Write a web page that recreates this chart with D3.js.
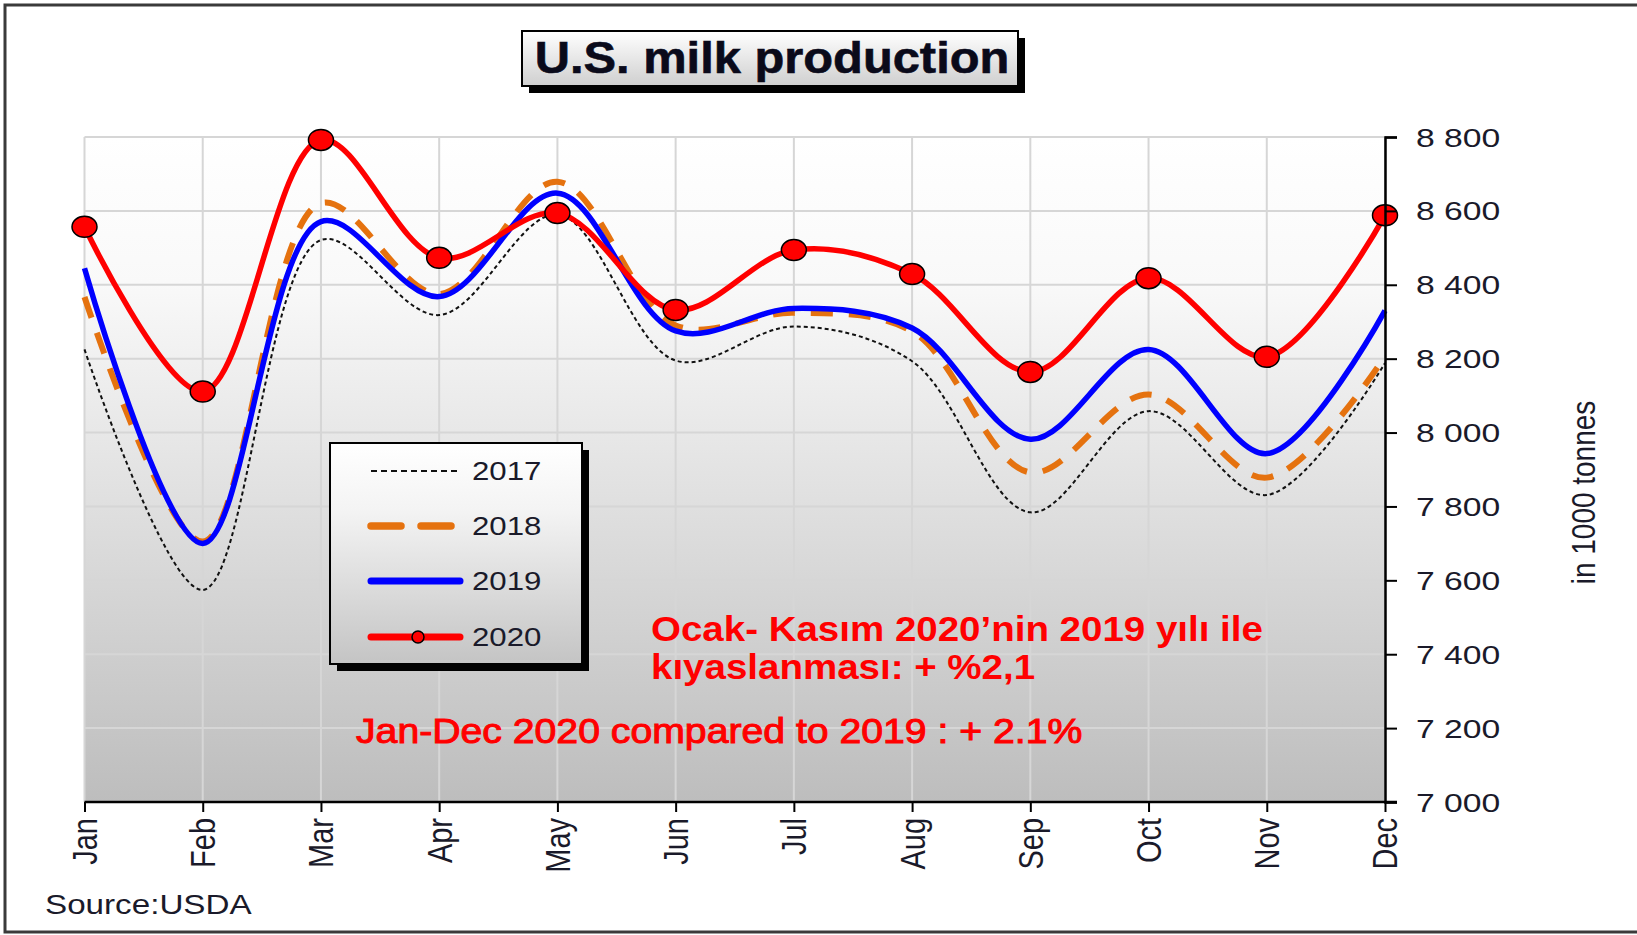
<!DOCTYPE html>
<html>
<head>
<meta charset="utf-8">
<script src="https://cdn.jsdelivr.net/npm/d3@7/dist/d3.min.js"></script>
<style>
  html, body { margin: 0; padding: 0; background: #fff; }
  svg { display: block; font-family: "Liberation Sans", Arial, sans-serif; }
</style>
</head>
<body>
<svg id="chart" width="1637" height="935"></svg>
<script>
// Monthly U.S. milk production, 1000 tonnes
const months = ["Jan", "Feb", "Mar", "Apr", "May", "Jun", "Jul", "Aug", "Sep", "Oct", "Nov", "Dec"];
const y2017 = [8225, 7574, 8521, 8318, 8590, 8195, 8287, 8193, 7784, 8058, 7831, 8188];
const y2018 = [8367, 7705, 8621, 8375, 8679, 8290, 8324, 8274, 7892, 8103, 7878, 8206];
const y2019 = [8445, 7700, 8571, 8368, 8648, 8275, 8336, 8283, 7982, 8225, 7943, 8330];
const y2020 = [8557, 8111, 8792, 8473, 8594, 8332, 8494, 8429, 8164, 8418, 8205, 8588];
const yTicks = [7000, 7200, 7400, 7600, 7800, 8000, 8200, 8400, 8600, 8800];

const titleText = "U.S. milk production";
const axisTitle = "in 1000 tonnes";
const sourceText = "Source:USDA";
const noteTr1 = "Ocak- Kasım 2020’nin 2019 yılı ile";
const noteTr2 = "kıyaslanması: + %2,1";
const noteEn = "Jan-Dec 2020 compared to 2019 : + 2.1%";

const series = [
  { name: "2017", values: y2017, color: "#111", width: 2, dash: "4,3", legendDash: "6,4" },
  { name: "2018", values: y2018, color: "#e5720f", width: 6, dash: "22,16", legendDash: "30,20" },
  { name: "2019", values: y2019, color: "#0000ff", width: 5.5, dash: null, legendDash: null },
  { name: "2020", values: y2020, color: "#ff0000", width: 5.5, dash: null, legendDash: null, markers: true }
];

const SX = 1.2; // horizontal stretch applied to text

const svg = d3.select("#chart");
const plot = { left: 84.5, right: 1385, top: 137, bottom: 802 };

const x = d3.scalePoint().domain(months).range([plot.left, plot.right]);
const y = d3.scaleLinear().domain([7000, 8800]).range([plot.bottom, plot.top]);

const defs = svg.append("defs");
function vGrad(id, stops) {
  const g = defs.append("linearGradient").attr("id", id).attr("x1", 0).attr("x2", 0).attr("y1", 0).attr("y2", 1);
  stops.forEach(([o, c]) => g.append("stop").attr("offset", o).attr("stop-color", c));
}
vGrad("plotBg", [["0%", "#ffffff"], ["22%", "#f9f9f9"], ["100%", "#bdbdbd"]]);
vGrad("legendBg", [["0%", "#ffffff"], ["30%", "#f4f4f4"], ["100%", "#c4c4c4"]]);
vGrad("titleBg", [["0%", "#ffffff"], ["100%", "#cfcfcf"]]);

// outer frame
svg.append("path")
  .attr("d", "M1640,5 H5 V932 H1640")
  .attr("fill", "none").attr("stroke", "#3a3a3a").attr("stroke-width", 3);

// plot background and grid
svg.append("rect")
  .attr("x", plot.left).attr("y", plot.top)
  .attr("width", plot.right - plot.left).attr("height", plot.bottom - plot.top)
  .attr("fill", "url(#plotBg)");

svg.append("g").selectAll("line").data(yTicks).join("line")
  .attr("x1", plot.left).attr("x2", plot.right)
  .attr("y1", d => y(d)).attr("y2", d => y(d))
  .attr("stroke", "#d6d6d6").attr("stroke-width", 2);
svg.append("g").selectAll("line").data(months).join("line")
  .attr("x1", d => x(d)).attr("x2", d => x(d))
  .attr("y1", plot.top).attr("y2", plot.bottom)
  .attr("stroke", "#d6d6d6").attr("stroke-width", 2);

// series lines
const line = d3.line().x((d, i) => x(months[i])).y(d => y(d)).curve(d3.curveCatmullRom.alpha(0.5));
const lines = svg.append("g");
series.forEach(s => {
  lines.append("path")
    .attr("d", line(s.values))
    .attr("fill", "none")
    .attr("stroke", s.color)
    .attr("stroke-width", s.width)
    .attr("stroke-dasharray", s.dash)
    .attr("stroke-linejoin", "round");
  if (s.markers) {
    lines.selectAll(null).data(s.values).join("ellipse")
      .attr("cx", (d, i) => x(months[i])).attr("cy", d => y(d))
      .attr("rx", 12.5).attr("ry", 10.5)
      .attr("fill", "#ff0000").attr("stroke", "#000").attr("stroke-width", 1.5);
  }
});

// axes
const fmt = d3.formatLocale({ decimal: ".", thousands: " ", grouping: [3], currency: ["", ""] }).format(",");
const yAxis = svg.append("g")
  .attr("transform", `translate(${plot.right},0)`)
  .call(d3.axisRight(y).tickValues(yTicks).tickSize(12).tickPadding(18).tickFormat(fmt));
yAxis.select(".domain").attr("stroke", "#000").attr("stroke-width", 2.5);
yAxis.selectAll(".tick line").attr("stroke", "#000").attr("stroke-width", 2);
yAxis.selectAll(".tick text")
  .attr("font-size", 26).attr("fill", "#1a1a2a")
  .attr("x", null).attr("dy", null)
  .attr("dominant-baseline", "central")
  .attr("transform", `translate(31,0) scale(${SX * 1.08},1)`);

const xAxis = svg.append("g")
  .attr("transform", `translate(0,${plot.bottom})`)
  .call(d3.axisBottom(x).tickSize(10).tickSizeOuter(0));
xAxis.select(".domain").attr("stroke", "#000").attr("stroke-width", 2.5)
  .attr("d", `M${plot.left},0H${plot.right + 12}`);
xAxis.selectAll(".tick line").attr("stroke", "#000").attr("stroke-width", 2);
xAxis.selectAll(".tick text")
  .attr("font-size", 29).attr("fill", "#1a1a2a")
  .attr("y", null).attr("dy", null)
  .attr("text-anchor", "end").attr("dominant-baseline", "central")
  .attr("transform", `translate(0,16) scale(${SX},1) rotate(-90)`);

// axis title
svg.append("text")
  .attr("transform", `translate(1584,${(397 + 588) / 2}) scale(${SX},1) rotate(-90)`)
  .attr("text-anchor", "middle").attr("dominant-baseline", "central")
  .attr("font-size", 28).attr("fill", "#1a1a2a")
  .text(axisTitle);

// title box
const tb = { x: 522, y: 31, w: 496, h: 55 };
svg.append("rect").attr("x", tb.x + 7).attr("y", tb.y + 7).attr("width", tb.w).attr("height", tb.h).attr("fill", "#000");
svg.append("rect").attr("x", tb.x).attr("y", tb.y).attr("width", tb.w).attr("height", tb.h)
  .attr("fill", "url(#titleBg)").attr("stroke", "#000").attr("stroke-width", 2);
svg.append("text")
  .attr("transform", `translate(${tb.x + tb.w / 2 + 2},${tb.y + 42}) scale(1.11,1)`)
  .attr("text-anchor", "middle")
  .attr("font-size", 44).attr("font-weight", "bold").attr("fill", "#0a0a1a")
  .attr("stroke", "#0a0a1a").attr("stroke-width", 0.6)
  .text(titleText);

// legend
const lg = { x: 330, y: 443, w: 252, h: 221 };
svg.append("rect").attr("x", lg.x + 7).attr("y", lg.y + 7).attr("width", lg.w).attr("height", lg.h).attr("fill", "#000");
svg.append("rect").attr("x", lg.x).attr("y", lg.y).attr("width", lg.w).attr("height", lg.h)
  .attr("fill", "url(#legendBg)").attr("stroke", "#000").attr("stroke-width", 2);
const rowY = [471, 526, 581, 637];
series.forEach((s, i) => {
  const g = svg.append("g").attr("transform", `translate(0,${rowY[i]})`);
  g.append("line").attr("x1", 371).attr("x2", 460).attr("y1", 0).attr("y2", 0)
    .attr("stroke", s.color).attr("stroke-width", s.name === "2017" ? 2 : s.width + 1.5)
    .attr("stroke-dasharray", s.legendDash)
    .attr("stroke-linecap", s.name === "2017" ? "butt" : "round");
  if (s.markers) {
    g.append("circle").attr("cx", 418).attr("cy", 0).attr("r", 6)
      .attr("fill", "#ff0000").attr("stroke", "#000").attr("stroke-width", 1.5);
  }
  g.append("text")
    .attr("transform", `translate(472,0) scale(${SX},1)`)
    .attr("dominant-baseline", "central")
    .attr("font-size", 26).attr("fill", "#1a1a2a")
    .text(s.name);
});

// notes
svg.append("text")
  .attr("transform", `translate(651,641) scale(1.1,1)`)
  .attr("font-size", 35).attr("font-weight", "bold").attr("fill", "#ff0000")
  .text(noteTr1);
svg.append("text")
  .attr("transform", `translate(651,679) scale(1.1,1)`)
  .attr("font-size", 35).attr("font-weight", "bold").attr("fill", "#ff0000")
  .text(noteTr2);
svg.append("text")
  .attr("transform", `translate(356,743) scale(1.12,1)`)
  .attr("font-size", 35).attr("fill", "#ff0000")
  .attr("stroke", "#ff0000").attr("stroke-width", 1)
  .text(noteEn);

// source
svg.append("text")
  .attr("transform", `translate(45,914) scale(1.23,1)`)
  .attr("font-size", 27).attr("fill", "#1a1a2a")
  .text(sourceText);
</script>
</body>
</html>
